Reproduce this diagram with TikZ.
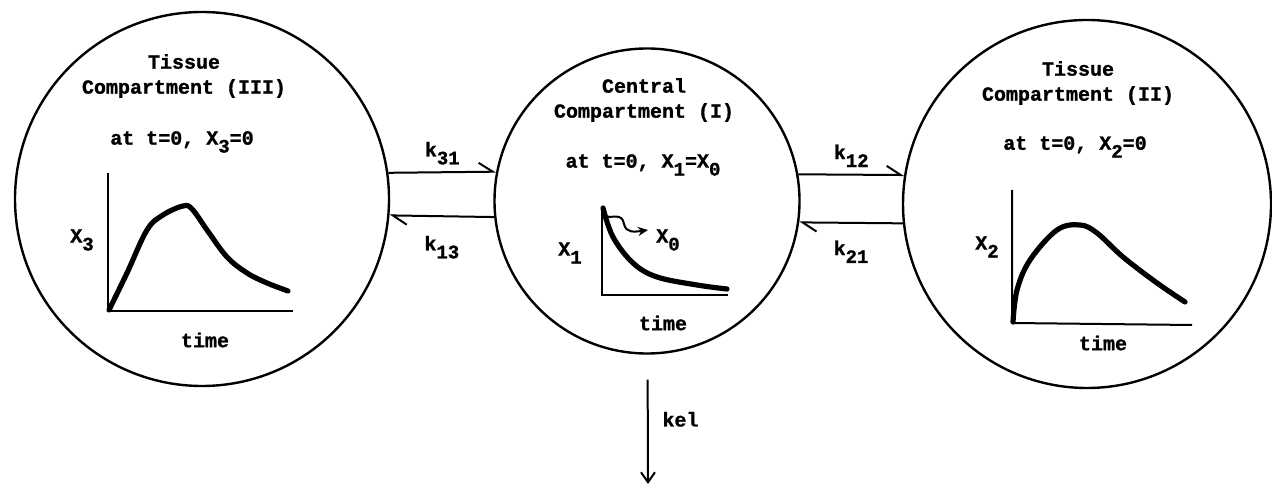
\documentclass[tikz,border=0pt]{standalone}
\usepackage{fontspec}
\setmainfont{Liberation Mono}[BoldFeatures={FakeBold=1.2}]
\usepackage{tikz}
\usetikzlibrary{arrows.meta}
\newcommand{\lowidx}[1]{\raisebox{-0.75ex}{\fontsize{9.5}{9.5}\selectfont #1}}

\begin{document}
\begin{tikzpicture}[x=0.5pt, y=-0.5pt, font=\bfseries,
    compart/.style={circle, draw, line width=1.2pt, inner sep=0pt},
    rate/.style={line width=1pt, -{Straight Barb[harpoon, length=7pt, width=9pt]}},
    axis/.style={line width=1pt},
    curve/.style={line width=2.6pt, line cap=round, line join=round},
    title/.style={align=center, font=\fontsize{10}{12.5}\selectfont\bfseries}]
        \useasboundingbox (0,0) rectangle (1272,485);

        % Compartimentos
        \node[compart, minimum size=187pt] (tissue3) at (202,199) {};
        \node[compart, minimum size=152.5pt] (central) at (647,201) {};
        \node[compart, minimum size=184pt] (tissue2) at (1087,204) {};

        % Tecido (III)
        \node[title] (title3) at (184,76) {Tissue\\Compartment (III)};
        \node (init3) at (182,142) {at t=0, X\lowidx{3}=0};
        \draw[axis] (108,173) -- (108,311) -- (293,311);
        \draw[curve] plot[smooth, tension=0.6] coordinates {(109,310) (127,273) (147,230) (163,215) (183,206) (192,209) (207,230) (227,257) (247,273) (267,283) (288,291)};
        \node (ylab3) at (82,240) {X\lowidx{3}};
        \node (time3) at (205,340) {time};

        % Central (I)
        \node[title] (title1) at (644,100) {Central\\Compartment (I)};
        \node (init1) at (643,165) {at t=0, X\lowidx{1}=X\lowidx{0}};
        \draw[axis] (602,207) -- (602,295) -- (728,295);
        \draw[curve] plot[smooth, tension=0.6] coordinates {(603,208) (613,237) (633,263) (657,277) (697,285) (727,289)};
        \draw[line width=1pt, -{Stealth[length=5pt, width=4.5pt]}] (605,216) .. controls (612,219) and (622,212) .. (624,224) .. controls (626,233) and (634,232) .. (648,230);
        \node (dose) at (668,240) {X\lowidx{0}};
        \node (ylab1) at (570,253) {X\lowidx{1}};
        \node (time1) at (663,323) {time};

        % Tecido (II)
        \node[title] (title2) at (1078,83) {Tissue\\Compartment (II)};
        \node (init2) at (1075,147) {at t=0, X\lowidx{2}=0};
        \draw[axis] (1012,190) -- (1012,323) -- (1192,325);
        \draw[curve] plot[smooth, tension=0.6] coordinates {(1013,322) (1017,290) (1030,260) (1057,230) (1080,225) (1097,233) (1123,257) (1157,283) (1185,302)};
        \node (ylab2) at (987,247) {X\lowidx{2}};
        \node (time2) at (1103,343) {time};

        % Transferencias
        \draw[rate] (tissue3.8) -- (central.169) node[midway, above] {k\lowidx{31}};
        \draw[rate] (central.186) -- (tissue3.-5) node[midway, below=6pt] {k\lowidx{13}};
        \draw[rate] (central.10) -- (tissue2.171) node[midway, above] {k\lowidx{12}};
        \draw[rate] (tissue2.186) -- (central.-8) node[midway, below=5pt] {k\lowidx{21}};

        % Eliminacao
        \coordinate (sink) at (648,484);
        \draw[line width=1pt, shorten <=12.5pt, -{Straight Barb[length=5pt, width=7pt]}] (central) -- (sink) node[midway, right=3.5pt] {kel};
    \end{tikzpicture}
\end{document}
